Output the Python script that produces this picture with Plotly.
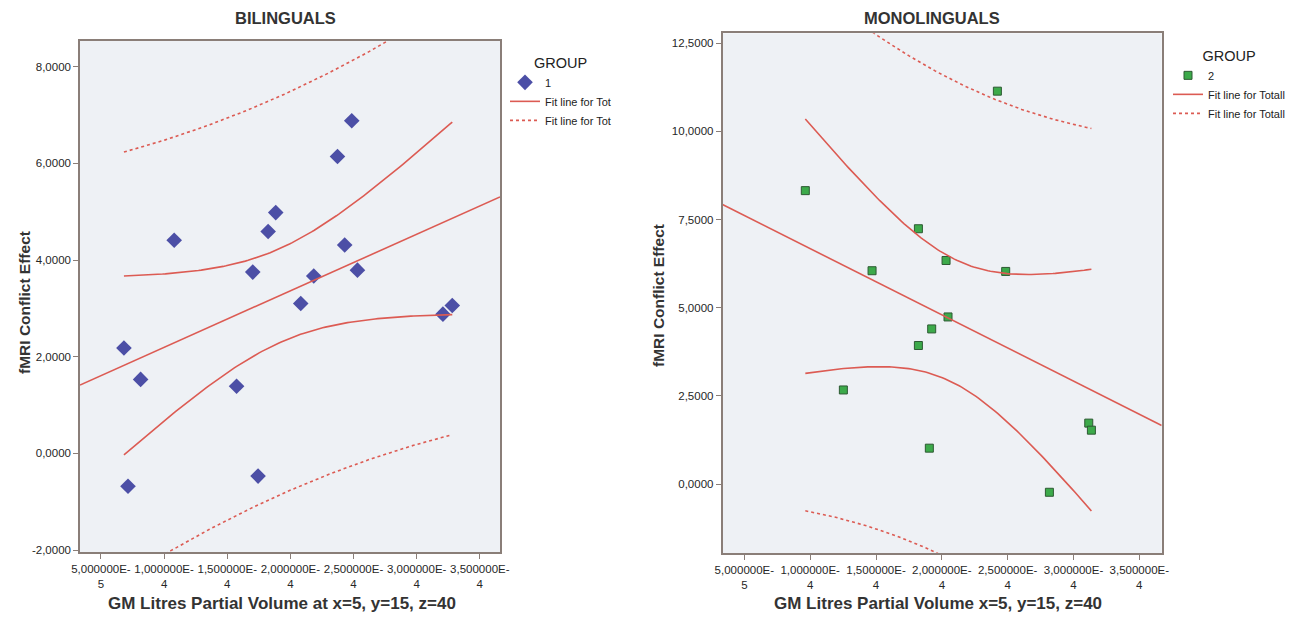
import numpy as np
import plotly.graph_objects as go

# ---------------- data ----------------
bil_x = [6.82e-5, 7.14e-5, 8.14e-5, 1.080e-4, 1.574e-4, 1.702e-4, 1.744e-4, 1.824e-4,
         1.884e-4, 2.082e-4, 2.185e-4, 2.373e-4, 2.430e-4, 2.486e-4, 2.531e-4, 3.208e-4, 3.282e-4]
bil_y = [2.18, -0.68, 1.53, 4.41, 1.39, 3.75, -0.47, 4.59,
         4.98, 3.10, 3.67, 6.14, 4.31, 6.88, 3.79, 2.88, 3.06]

mono_x = [2.422e-4, 9.63e-5, 1.822e-4, 2.032e-4, 1.470e-4, 2.485e-4, 2.047e-4,
          1.923e-4, 1.822e-4, 1.252e-4, 3.116e-4, 3.136e-4, 1.905e-4, 2.817e-4]
mono_y = [11.14, 8.32, 7.24, 6.34, 6.05, 6.03, 4.74,
          4.40, 3.93, 2.67, 1.73, 1.53, 1.02, -0.23]

x_tickvals = [5e-5, 1e-4, 1.5e-4, 2e-4, 2.5e-4, 3e-4, 3.5e-4]
x_ticktext = ["5,000000E-<br>5", "1,000000E-<br>4", "1,500000E-<br>4", "2,000000E-<br>4",
              "2,500000E-<br>4", "3,000000E-<br>4", "3,500000E-<br>4"]
bil_ytickvals = [-2, 0, 2, 4, 6, 8]
bil_yticktext = ["-2,0000", "0,0000", "2,0000", "4,0000", "6,0000", "8,0000"]
mono_ytickvals = [0, 2.5, 5, 7.5, 10, 12.5]
mono_yticktext = ["0,0000", "2,5000", "5,0000", "7,5000", "10,0000", "12,5000"]

# t critical values (two-sided 95%) for df = n-2
T_CRIT = {15: 2.1314, 12: 2.1788}

X_RANGE_L = [3.34e-5, 3.66e-4]
X_RANGE_R = [3.34e-5, 3.67e-4]
Y_RANGE_L = [-2.04, 8.53]
Y_RANGE_R = [-1.96, 12.78]

RED = "#DC5B53"
AX = "#8a7e78"
FONT = "Liberation Sans, Arial, sans-serif"

# page has an 8px body margin: figure drawn at (8,8)
OFF = 8
W, H = 1300 - OFF, 620 - OFF


def px(x):
    return (x - OFF) / W


def py(y):
    return 1 - (y - OFF) / H


def ols_bands(x, y, xr):
    x = np.asarray(x); y = np.asarray(y)
    n = len(x)
    b, a = np.polyfit(x, y, 1)
    res = y - (a + b * x)
    s = np.sqrt(np.sum(res ** 2) / (n - 2))
    xm = x.mean(); sxx = np.sum((x - xm) ** 2)
    t = T_CRIT[n - 2]
    xl = np.linspace(xr[0], xr[1], 50)
    yl = a + b * xl
    xb = np.linspace(x.min(), x.max(), 120)
    yb = a + b * xb
    se_m = s * np.sqrt(1 / n + (xb - xm) ** 2 / sxx)
    se_i = s * np.sqrt(1 + 1 / n + (xb - xm) ** 2 / sxx)
    return xl, yl, xb, yb - t * se_m, yb + t * se_m, yb - t * se_i, yb + t * se_i


fig = go.Figure()


def add_panel(x, y, xr, xa, ya, legend, marker, label, fitname):
    xl, yl, xb, mlo, mhi, ilo, ihi = ols_bands(x, y, xr)
    fig.add_trace(go.Scatter(x=x, y=y, mode="markers", marker=marker, name=label,
                             xaxis=xa, yaxis=ya, legend=legend, cliponaxis=False))
    fig.add_trace(go.Scatter(x=xl, y=yl, mode="lines", line=dict(color=RED, width=1.6),
                             name=fitname, xaxis=xa, yaxis=ya, legend=legend,
                             legendgroup=legend + "fit"))
    fig.add_trace(go.Scatter(x=xb, y=mhi, mode="lines", line=dict(color=RED, width=1.6),
                             showlegend=False, xaxis=xa, yaxis=ya, legendgroup=legend + "fit"))
    fig.add_trace(go.Scatter(x=xb, y=mlo, mode="lines", line=dict(color=RED, width=1.6),
                             showlegend=False, xaxis=xa, yaxis=ya, legendgroup=legend + "fit"))
    fig.add_trace(go.Scatter(x=xb, y=ihi, mode="lines", line=dict(color=RED, width=1.6, dash="dot"),
                             name=fitname, xaxis=xa, yaxis=ya, legend=legend,
                             legendgroup=legend + "ci"))
    fig.add_trace(go.Scatter(x=xb, y=ilo, mode="lines", line=dict(color=RED, width=1.6, dash="dot"),
                             showlegend=False, xaxis=xa, yaxis=ya, legendgroup=legend + "ci"))


add_panel(bil_x, bil_y, X_RANGE_L, "x", "y", "legend",
          dict(symbol="diamond", size=12, color="#4C4FA6", line=dict(width=0)),
          "1", "Fit line for Tot")
add_panel(mono_x, mono_y, X_RANGE_R, "x2", "y2", "legend2",
          dict(symbol="square", size=8, color="#3CAA4A", line=dict(width=1, color="#2d5a33")),
          "2", "Fit line for Totall")

axis_common = dict(showline=True, linecolor=AX, linewidth=1.5, mirror=True, ticks="outside",
                   ticklen=5, tickcolor=AX, showgrid=False, zeroline=False, automargin=False,
                   tickfont=dict(family=FONT, size=11.5, color="#262626"))

fig.update_layout(
    width=W, height=H, margin=dict(l=0, r=0, t=0, b=0, autoexpand=False),
    paper_bgcolor="white", plot_bgcolor="#EEF1F5",
    font=dict(family=FONT, color="#333333"),
    xaxis=dict(domain=[px(80), px(500)], range=X_RANGE_L, anchor="y",
               tickvals=x_tickvals, ticktext=x_ticktext, **axis_common),
    yaxis=dict(domain=[py(552), py(41)], range=Y_RANGE_L, anchor="x",
               tickvals=bil_ytickvals, ticktext=bil_yticktext, **axis_common),
    xaxis2=dict(domain=[px(722.5), px(1161.7)], range=X_RANGE_R, anchor="y2",
                tickvals=x_tickvals, ticktext=x_ticktext, **axis_common),
    yaxis2=dict(domain=[py(553.3), py(33.3)], range=Y_RANGE_R, anchor="x2",
                tickvals=mono_ytickvals, ticktext=mono_yticktext, **axis_common),
    legend=dict(x=px(505), y=py(49), xanchor="left", yanchor="top",
                bgcolor="rgba(0,0,0,0)", tracegroupgap=0, itemwidth=30,
                title=dict(text="GROUP", side="top center", font=dict(size=14.5, family=FONT)),
                font=dict(size=11, family=FONT, color="#222222")),
    legend2=dict(x=px(1168), y=py(42), xanchor="left", yanchor="top",
                 bgcolor="rgba(0,0,0,0)", tracegroupgap=0, itemwidth=30,
                 title=dict(text="GROUP", side="top center", font=dict(size=14.5, family=FONT)),
                 font=dict(size=11, family=FONT, color="#222222")),
    showlegend=True,
)

ann = [
    dict(text="<b>BILINGUALS</b>", x=285, y=18, size=16.5),
    dict(text="<b>MONOLINGUALS</b>", x=932, y=18, size=16.5),
    dict(text="<b>GM Litres Partial Volume at x=5, y=15, z=40</b>", x=282, y=603, size=17),
    dict(text="<b>GM Litres Partial Volume x=5, y=15, z=40</b>", x=938, y=603, size=17),
    dict(text="<b>fMRI Conflict Effect</b>", x=24, y=303, size=15.5, angle=-90),
    dict(text="<b>fMRI Conflict Effect</b>", x=658, y=296, size=15.5, angle=-90),
]
for a in ann:
    fig.add_annotation(xref="paper", yref="paper", showarrow=False,
                       xanchor="center", yanchor="middle",
                       font=dict(family=FONT, color="#333333", size=a["size"]),
                       text=a["text"], x=px(a["x"]), y=py(a["y"]), textangle=a.get("angle", 0))

fig.write_html("out.html")
